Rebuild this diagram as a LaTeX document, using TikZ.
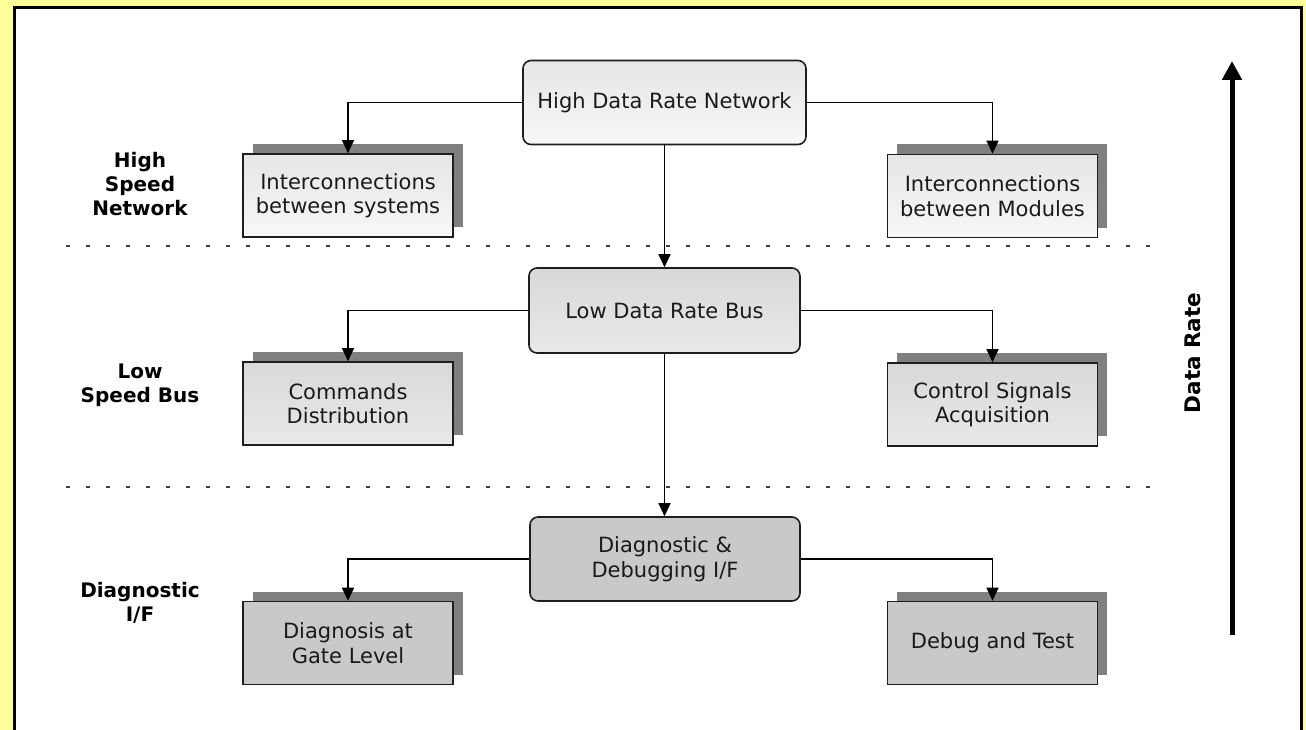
\documentclass[tikz,border=0pt]{standalone}
\usepackage{fontspec}
\setmainfont{DejaVu Sans}
\usetikzlibrary{arrows.meta,shadows}

\definecolor{pagebg}{HTML}{FFFF99}
\definecolor{boxline}{HTML}{1E1E1E}
\definecolor{shadowgray}{HTML}{808080}
\definecolor{boxtext}{HTML}{1A1A1A}

\tikzset{
  boxfont/.style={font=\fontsize{21}{24.5}\selectfont, text=boxtext, align=center},
  levelfont/.style={font=\fontsize{20}{24}\selectfont\bfseries, align=center},
  busbox/.style={boxfont, draw=boxline, line width=1.6pt, rounded corners=8pt,
    inner sep=0pt},
  leafbox/.style={boxfont, draw=boxline, line width=1.6pt, inner sep=0pt,
    minimum width=210pt, minimum height=83pt,
    drop shadow={shadow xshift=9.5pt, shadow yshift=10pt, fill=shadowgray, opacity=1}},
  lightfill/.style={top color=black!10, bottom color=black!3},
  midfill/.style={top color=black!15, bottom color=black!9},
  darkfill/.style={fill=black!21},
  link/.style={line width=1.4pt, -{Triangle[width=12pt,length=13pt]}},
  levelsep/.style={line width=1.3pt, black!75, dash pattern=on 4pt off 16pt},
}

\begin{document}
\begin{tikzpicture}[x=1pt, y=-1pt]
  \useasboundingbox (0,0) rectangle (1306,730);
  \fill[pagebg] (0,0) rectangle (1306,730);
  \draw[line width=2.5pt, fill=white] (14.5,7.5) rectangle (1301.5,745);

  % level separators
  \coordinate (sepAl) at (66,246);
  \coordinate (sepAr) at (1162,246);
  \coordinate (sepBl) at (66,487);
  \coordinate (sepBr) at (1162,487);
  \draw[levelsep] (sepAl) -- (sepAr);
  \draw[levelsep] (sepBl) -- (sepBr);

  % level names
  \node[levelfont] (lvlA) at (140,184) {High\\Speed\\Network};
  \node[levelfont] (lvlB) at (140,385) {Low\\Speed Bus};
  \node[levelfont] (lvlC) at (140,603) {Diagnostic\\I/F};

  % buses
  \node[busbox, lightfill, minimum width=283pt, minimum height=84pt] (hdrn) at (664.5,102.5) {High Data Rate Network};
  \node[busbox, midfill, minimum width=271pt, minimum height=85pt] (ldrb) at (664.5,310.5) {Low Data Rate Bus};
  \node[busbox, darkfill, minimum width=270pt, minimum height=84pt] (ddif) at (665,559) {Diagnostic \&\\Debugging I/F};

  % functions served by each bus
  \node[leafbox, lightfill] (sys) at (348,195.5) {Interconnections\\between systems};
  \node[leafbox, lightfill] (mods) at (992.5,196) {Interconnections\\between Modules};
  \node[leafbox, midfill] (cmd) at (348,403.5) {Commands\\Distribution};
  \node[leafbox, midfill] (ctl) at (992.5,404.5) {Control Signals\\Acquisition};
  \node[leafbox, darkfill] (gate) at (348,643) {Diagnosis at\\Gate Level};
  \node[leafbox, darkfill] (dbg) at (992.5,643) {Debug and Test};

  % connectors
  \draw[link] (hdrn.west) -| (sys.north);
  \draw[link] (hdrn.east) -| (mods.north);
  \draw[link] (hdrn.south) -- (ldrb.north);
  \draw[link] (ldrb.west) -| (cmd.north);
  \draw[link] (ldrb.east) -| (ctl.north);
  \draw[link] (ldrb.south) -- (ldrb.south |- ddif.north);
  \draw[link] (ddif.west) -| (gate.north);
  \draw[link] (ddif.east) -| (dbg.north);

  % data rate axis
  \coordinate (rateLow) at (1232,635);
  \coordinate (rateHigh) at (1232,61);
  \draw[line width=5pt, -{Triangle[width=19pt,length=19pt]}] (rateLow) -- (rateHigh);
  \node[levelfont, font=\fontsize{21.5}{24}\selectfont\bfseries, rotate=90] (rateLabel) at (1193,353) {Data Rate};
\end{tikzpicture}
\end{document}
